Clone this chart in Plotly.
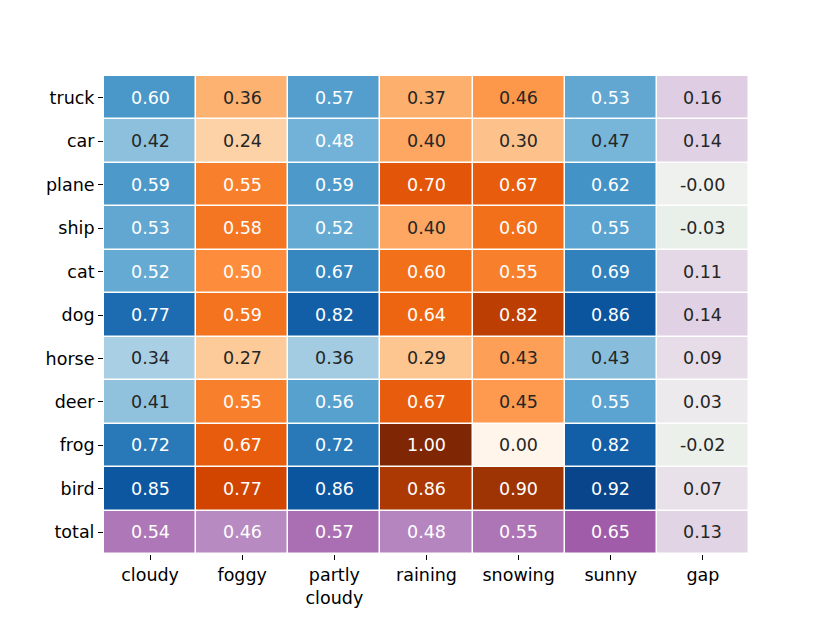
import plotly.graph_objects as go
from plotly.colors import sample_colorscale, unlabel_rgb

# rows / columns of the table
rows = ['truck', 'car', 'plane', 'ship', 'cat', 'dog', 'horse', 'deer', 'frog', 'bird', 'total']
columns = ['cloudy', 'foggy', 'partly cloudy', 'raining', 'snowing', 'sunny', 'gap']
column_labels = ['cloudy', 'foggy', 'partly<br>cloudy', 'raining', 'snowing', 'sunny', 'gap']

cloudy = [0.60, 0.42, 0.59, 0.53, 0.52, 0.77, 0.34, 0.41, 0.72, 0.85, 0.54]
foggy = [0.36, 0.24, 0.55, 0.58, 0.50, 0.59, 0.27, 0.55, 0.67, 0.77, 0.46]
partly_cloudy = [0.57, 0.48, 0.59, 0.52, 0.67, 0.82, 0.36, 0.56, 0.72, 0.86, 0.57]
raining = [0.37, 0.40, 0.70, 0.40, 0.60, 0.64, 0.29, 0.67, 1.00, 0.86, 0.48]
snowing = [0.46, 0.30, 0.67, 0.60, 0.55, 0.82, 0.43, 0.45, 0.00, 0.90, 0.55]
sunny = [0.53, 0.47, 0.62, 0.55, 0.69, 0.86, 0.43, 0.55, 0.82, 0.92, 0.65]
gap = [0.16, 0.14, -0.004, -0.03, 0.11, 0.14, 0.09, 0.03, -0.02, 0.07, 0.13]

data = dict(zip(columns, [cloudy, foggy, partly_cloudy, raining, snowing, sunny, gap]))

blue_cols = ['cloudy', 'partly cloudy', 'sunny']
orange_cols = ['foggy', 'raining', 'snowing']

blues = [[0.0, 'rgb(247,251,255)'], [0.125, 'rgb(222,235,247)'], [0.25, 'rgb(198,219,239)'],
         [0.375, 'rgb(158,202,225)'], [0.5, 'rgb(107,174,214)'], [0.625, 'rgb(66,146,198)'],
         [0.75, 'rgb(33,113,181)'], [0.875, 'rgb(8,81,156)'], [1.0, 'rgb(8,48,107)']]
oranges = [[0.0, 'rgb(255,245,235)'], [0.125, 'rgb(254,230,206)'], [0.25, 'rgb(253,208,162)'],
           [0.375, 'rgb(253,174,107)'], [0.5, 'rgb(253,141,60)'], [0.625, 'rgb(241,105,19)'],
           [0.75, 'rgb(217,72,1)'], [0.875, 'rgb(166,54,3)'], [1.0, 'rgb(127,39,4)']]
purples = [[0.0, 'rgb(27,120,55)'], [0.48, 'rgb(230,238,230)'], [0.5, 'rgb(240,241,240)'],
           [0.58, 'rgb(222,205,227)'], [0.73, 'rgb(184,138,194)'], [0.825, 'rgb(160,92,168)'],
           [1.0, 'rgb(64,0,75)']]


def masked(pick):
    z = []
    for r in rows:
        line = []
        for c in columns:
            line.append(data[c][rows.index(r)] if pick(r, c) else None)
        z.append(line)
    return z


groups = [
    (lambda r, c: r != 'total' and c in blue_cols, blues, 0, 1),
    (lambda r, c: r != 'total' and c in orange_cols, oranges, 0, 1),
    (lambda r, c: r == 'total' or c == 'gap', purples, -1, 1),
]

fig = go.Figure()
annotations = []
for pick, scale, lo, hi in groups:
    fig.add_trace(go.Heatmap(
        z=masked(pick), x=columns, y=rows, colorscale=scale, zmin=lo, zmax=hi,
        showscale=False, xgap=1.5, ygap=1.5, hoverongaps=False,
    ))
    for r in rows:
        for c in columns:
            if not pick(r, c):
                continue
            v = data[c][rows.index(r)]
            col = sample_colorscale(scale, [(v - lo) / (hi - lo)])[0]
            rgb = [x / 255 for x in unlabel_rgb(col)]
            lin = [x / 12.92 if x <= 0.03928 else ((x + 0.055) / 1.055) ** 2.4 for x in rgb]
            lum = 0.2126 * lin[0] + 0.7152 * lin[1] + 0.0722 * lin[2]
            annotations.append(dict(
                x=c, y=r, text=f'{v:.2f}', showarrow=False,
                font=dict(size=17.5, color='#262626' if lum > 0.408 else 'white'),
            ))

fig.update_layout(
    width=830, height=623,
    margin=dict(l=96, r=89, t=68, b=77),
    paper_bgcolor='white', plot_bgcolor='white',
    font=dict(family='DejaVu Sans', size=17.5, color='black'),
    annotations=annotations,
)
fig.update_xaxes(tickvals=columns, ticktext=column_labels, ticks='outside', ticklen=5,
                 tickcolor='black', showgrid=False, zeroline=False, showline=False)
fig.update_yaxes(autorange='reversed', ticks='outside', ticklen=5, tickcolor='black',
                 showgrid=False, zeroline=False, showline=False)

fig.write_html('out.html')
